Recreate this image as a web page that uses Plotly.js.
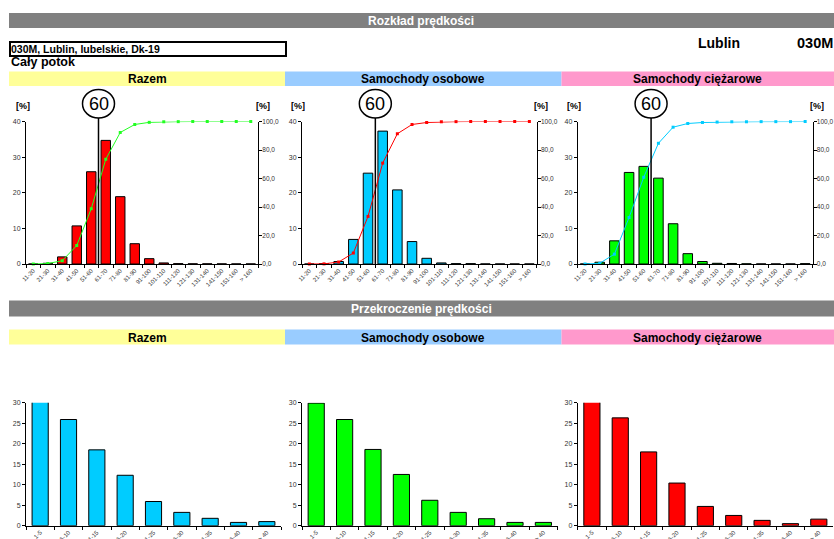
<!DOCTYPE html>
<html>
<head>
<meta charset="utf-8">
<script src="https://cdn.plot.ly/plotly-3.0.1.min.js"></script>
<style>html,body{margin:0;padding:0;background:#fff;}#chart{width:834px;height:539px;}</style>
</head>
<body>
<div id="chart"></div>
<script>
// ---------- DATA ----------
const speedCats = ['11-20','21-30','31-40','41-50','51-60','61-70','71-80','81-90','91-100','101-110','111-120','121-130','131-140','141-150','151-160','> 160'];
const razemPct      = [0, 0.2, 2.0, 10.7, 25.9, 34.7, 18.9, 5.7, 1.5, 0.3, 0.1, 0.05, 0.05, 0.03, 0.02, 0.02];
const razemCum      = [0, 0.3, 2.3, 13.0, 38.8, 73.5, 92.3, 97.9, 99.4, 99.8, 99.9, 100, 100, 100, 100, 100];
const osobowePct    = [0, 0.1, 0.7, 6.9, 25.5, 37.3, 20.8, 6.3, 1.6, 0.3, 0.1, 0.1, 0.02, 0.01, 0.01, 0.01];
const osoboweCum    = [0, 0.1, 1.4, 7.7, 33.4, 70.8, 91.4, 97.9, 99.3, 99.8, 99.9, 100, 100, 100, 100, 100];
const ciezarowePct  = [0, 0.5, 6.5, 25.7, 27.4, 24.1, 11.3, 2.9, 0.7, 0.2, 0.15, 0.05, 0.02, 0.02, 0.02, 0.1];
const ciezaroweCum  = [0, 0.5, 6.9, 32.6, 60.9, 84.7, 96.0, 98.6, 99.3, 99.6, 99.8, 99.8, 99.9, 99.9, 99.9, 100];

const excCats       = ['1-5','6-10','11-15','16-20','21-25','26-30','31-35','36-40','> 40'];
const excRazem      = [30.4, 25.9, 18.5, 12.3, 5.9, 3.25, 1.8, 0.8, 1.0];
const excOsobowe    = [29.9, 25.9, 18.6, 12.5, 6.2, 3.25, 1.7, 0.8, 0.8];
const excCiezarowe  = [30.5, 26.3, 18.0, 10.4, 4.7, 2.5, 1.3, 0.5, 1.6];

const cumTicks = [0, 20, 40, 60, 80, 100];
const cumTickText = ['0,0', '20,0', '40,0', '60,0', '80,0', '100,0'];
const speedLimitBoundary = 4.5; // between 51-60 and 61-70 (60 km/h)

// ---------- HELPERS ----------
const W = 834, H = 539;
const px = v => v / W;
const py = v => 1 - v / H;
const FONT = 'Liberation Sans, Arial, sans-serif';

const RED = '#FF0000', BLUE = '#00CCFF', GREEN = '#00FF00';

function barTrace(x, y, color, xa, ya, w) {
  return {type: 'bar', x: x, y: y, xaxis: xa, yaxis: ya, width: w,
    marker: {color: color, line: {color: '#000', width: 1}}, cliponaxis: false, hoverinfo: 'x+y'};
}
function lineTrace(x, y, color, xa, ya) {
  return {type: 'scatter', mode: 'lines+markers', x: x, y: y, xaxis: xa, yaxis: ya,
    line: {color: color, width: 1}, marker: {color: color, size: 3, symbol: 'square'}, cliponaxis: false};
}

const data = [
  barTrace(speedCats, razemPct, RED, 'x', 'y', 0.65),
  lineTrace(speedCats, razemCum, '#22FF22', 'x', 'y2'),
  barTrace(speedCats, osobowePct, BLUE, 'x2', 'y3', 0.65),
  lineTrace(speedCats, osoboweCum, RED, 'x2', 'y4'),
  barTrace(speedCats, ciezarowePct, GREEN, 'x3', 'y5', 0.65),
  lineTrace(speedCats, ciezaroweCum, BLUE, 'x3', 'y6'),
  barTrace(excCats, excRazem, BLUE, 'x4', 'y7', 0.57),
  barTrace(excCats, excOsobowe, GREEN, 'x5', 'y8', 0.57),
  barTrace(excCats, excCiezarowe, RED, 'x6', 'y9', 0.57)
];

const tickFont = {family: FONT, size: 7, color: '#333'};
function xAxis(d0, d1, anchor, n) {
  return {domain: [px(d0), px(d1)], anchor: anchor, type: 'category', range: [-0.5, n - 0.5],
    tickangle: -45, tickfont: {family: FONT, size: 6, color: '#333'}, ticks: 'outside', ticklen: 3,
    tickson: 'boundaries', showline: true, linecolor: '#000', linewidth: 1, showgrid: false,
    zeroline: false, fixedrange: true, tickcolor: '#000'};
}
function yAxis(top, bottom, anchor, range, dtick) {
  return {domain: [py(bottom), py(top)], anchor: anchor, range: range, dtick: dtick,
    tickfont: tickFont, ticks: 'outside', ticklen: 3, showline: true, linecolor: '#000', linewidth: 1,
    showgrid: false, zeroline: false, fixedrange: true, tickcolor: '#000'};
}
function yCum(over, anchor) {
  return {overlaying: over, anchor: anchor, side: 'right', range: [0, 100], tickvals: cumTicks,
    ticktext: cumTickText, tickfont: {family: FONT, size: 6.5, color: '#333'}, ticks: 'outside', ticklen: 3,
    ticklabelstandoff: -1, showline: true,
    linecolor: '#000', linewidth: 1, showgrid: false, zeroline: false, fixedrange: true, tickcolor: '#000'};
}

const TT = 121.5, TB = 264, BT = 402.7, BB = 525.7;
const layout = {
  width: W, height: H, margin: {l: 0, r: 0, t: 0, b: 0}, showlegend: false,
  paper_bgcolor: '#fff', plot_bgcolor: 'rgba(0,0,0,0)', bargap: 0.35,
  font: {family: FONT},
  xaxis:  xAxis(26, 258, 'y', 16),
  yaxis:  yAxis(TT, TB, 'x', [0, 40], 10),
  yaxis2: yCum('y', 'x'),
  xaxis2: xAxis(302, 536.7, 'y3', 16),
  yaxis3: yAxis(TT, TB, 'x2', [0, 40], 10),
  yaxis4: yCum('y3', 'x2'),
  xaxis3: xAxis(577.7, 812.5, 'y5', 16),
  yaxis5: yAxis(TT, TB, 'x3', [0, 40], 10),
  yaxis6: yCum('y5', 'x3'),
  xaxis4: xAxis(26, 281, 'y7', 9),
  yaxis7: yAxis(BT, BB, 'x4', [0, 30], 5),
  xaxis5: xAxis(302, 557.6, 'y8', 9),
  yaxis8: yAxis(BT, BB, 'x5', [0, 30], 5),
  xaxis6: xAxis(577.7, 833, 'y9', 9),
  yaxis9: yAxis(BT, BB, 'x6', [0, 30], 5),
  shapes: [], annotations: []
};

function rect(x0, x1, y0, y1, fill, lineColor, lw) {
  layout.shapes.push({type: 'rect', xref: 'paper', yref: 'paper', x0: px(x0), x1: px(x1), y0: py(y1), y1: py(y0),
    fillcolor: fill, line: {color: lineColor || fill, width: lw || 0}, layer: 'below'});
}
function text(t, x, y, size, color, xanchor, bold) {
  layout.annotations.push({text: bold === false ? t : '<b>' + t + '</b>', xref: 'paper', yref: 'paper',
    x: px(x), y: py(y), xanchor: xanchor || 'center', yanchor: 'middle', showarrow: false,
    font: {family: FONT, size: size, color: color || '#000'}});
}

// title bands
rect(9, 834, 13, 28, '#808080');
text('Rozkład prędkości', 421, 20.5, 12, '#fff');
rect(9, 834, 300.5, 316.5, '#808080');
text('Przekroczenie prędkości', 421, 308.5, 12, '#fff');

// location box
layout.shapes.push({type: 'rect', xref: 'paper', yref: 'paper', x0: px(10), x1: px(286), y0: py(56), y1: py(42),
  fillcolor: '#fff', line: {color: '#000', width: 2}});
text('030M, Lublin, lubelskie, Dk-19', 9, 49, 10.5, '#000', 'left');
text('Cały potok', 9, 62.5, 12.5, '#000', 'left');
text('Lublin', 719, 43, 14, '#000', 'center');
text('030M', 835, 43, 14.5, '#000', 'right');

// colour bands
const bandCols = ['#FFFF99', '#99CCFF', '#FF99CC'];
const bandText = ['Razem', 'Samochody osobowe', 'Samochody ciężarowe'];
const bandX = [[9, 285], [285, 561.5], [561.5, 834]];
[[71.5, 86], [329.5, 344.5]].forEach(([t, b]) => {
  bandX.forEach((bx, i) => {
    rect(bx[0], bx[1], t, b, bandCols[i]);
    text(bandText[i], (bx[0] + bx[1]) / 2, (t + b) / 2 + 0.5, 12, '#000');
  });
});

// [%] labels
[[23, 263], [298, 541], [574, 817]].forEach(([l, r]) => {
  text('[%]', l, 106, 9, '#000');
  text('[%]', r, 106, 9, '#000');
});

// speed limit markers
['x', 'x2', 'x3'].forEach(xa => {
  layout.shapes.push({type: 'line', xref: xa, yref: 'paper', x0: speedLimitBoundary, x1: speedLimitBoundary,
    y0: py(TB), y1: py(118), line: {color: '#000', width: 1.5}});
  layout.shapes.push({type: 'circle', xref: xa, xsizemode: 'pixel', xanchor: speedLimitBoundary, x0: -16, x1: 16,
    yref: 'paper', y0: py(118), y1: py(89.5), fillcolor: '#fff', line: {color: '#000', width: 1.5}});
  layout.annotations.push({text: '60', xref: xa, yref: 'paper', x: speedLimitBoundary, y: py(104),
    xanchor: 'center', yanchor: 'middle', showarrow: false, font: {family: FONT, size: 18, color: '#000'}});
});

Plotly.newPlot('chart', data, layout, {staticPlot: true, displayModeBar: false});
</script>
</body>
</html>
